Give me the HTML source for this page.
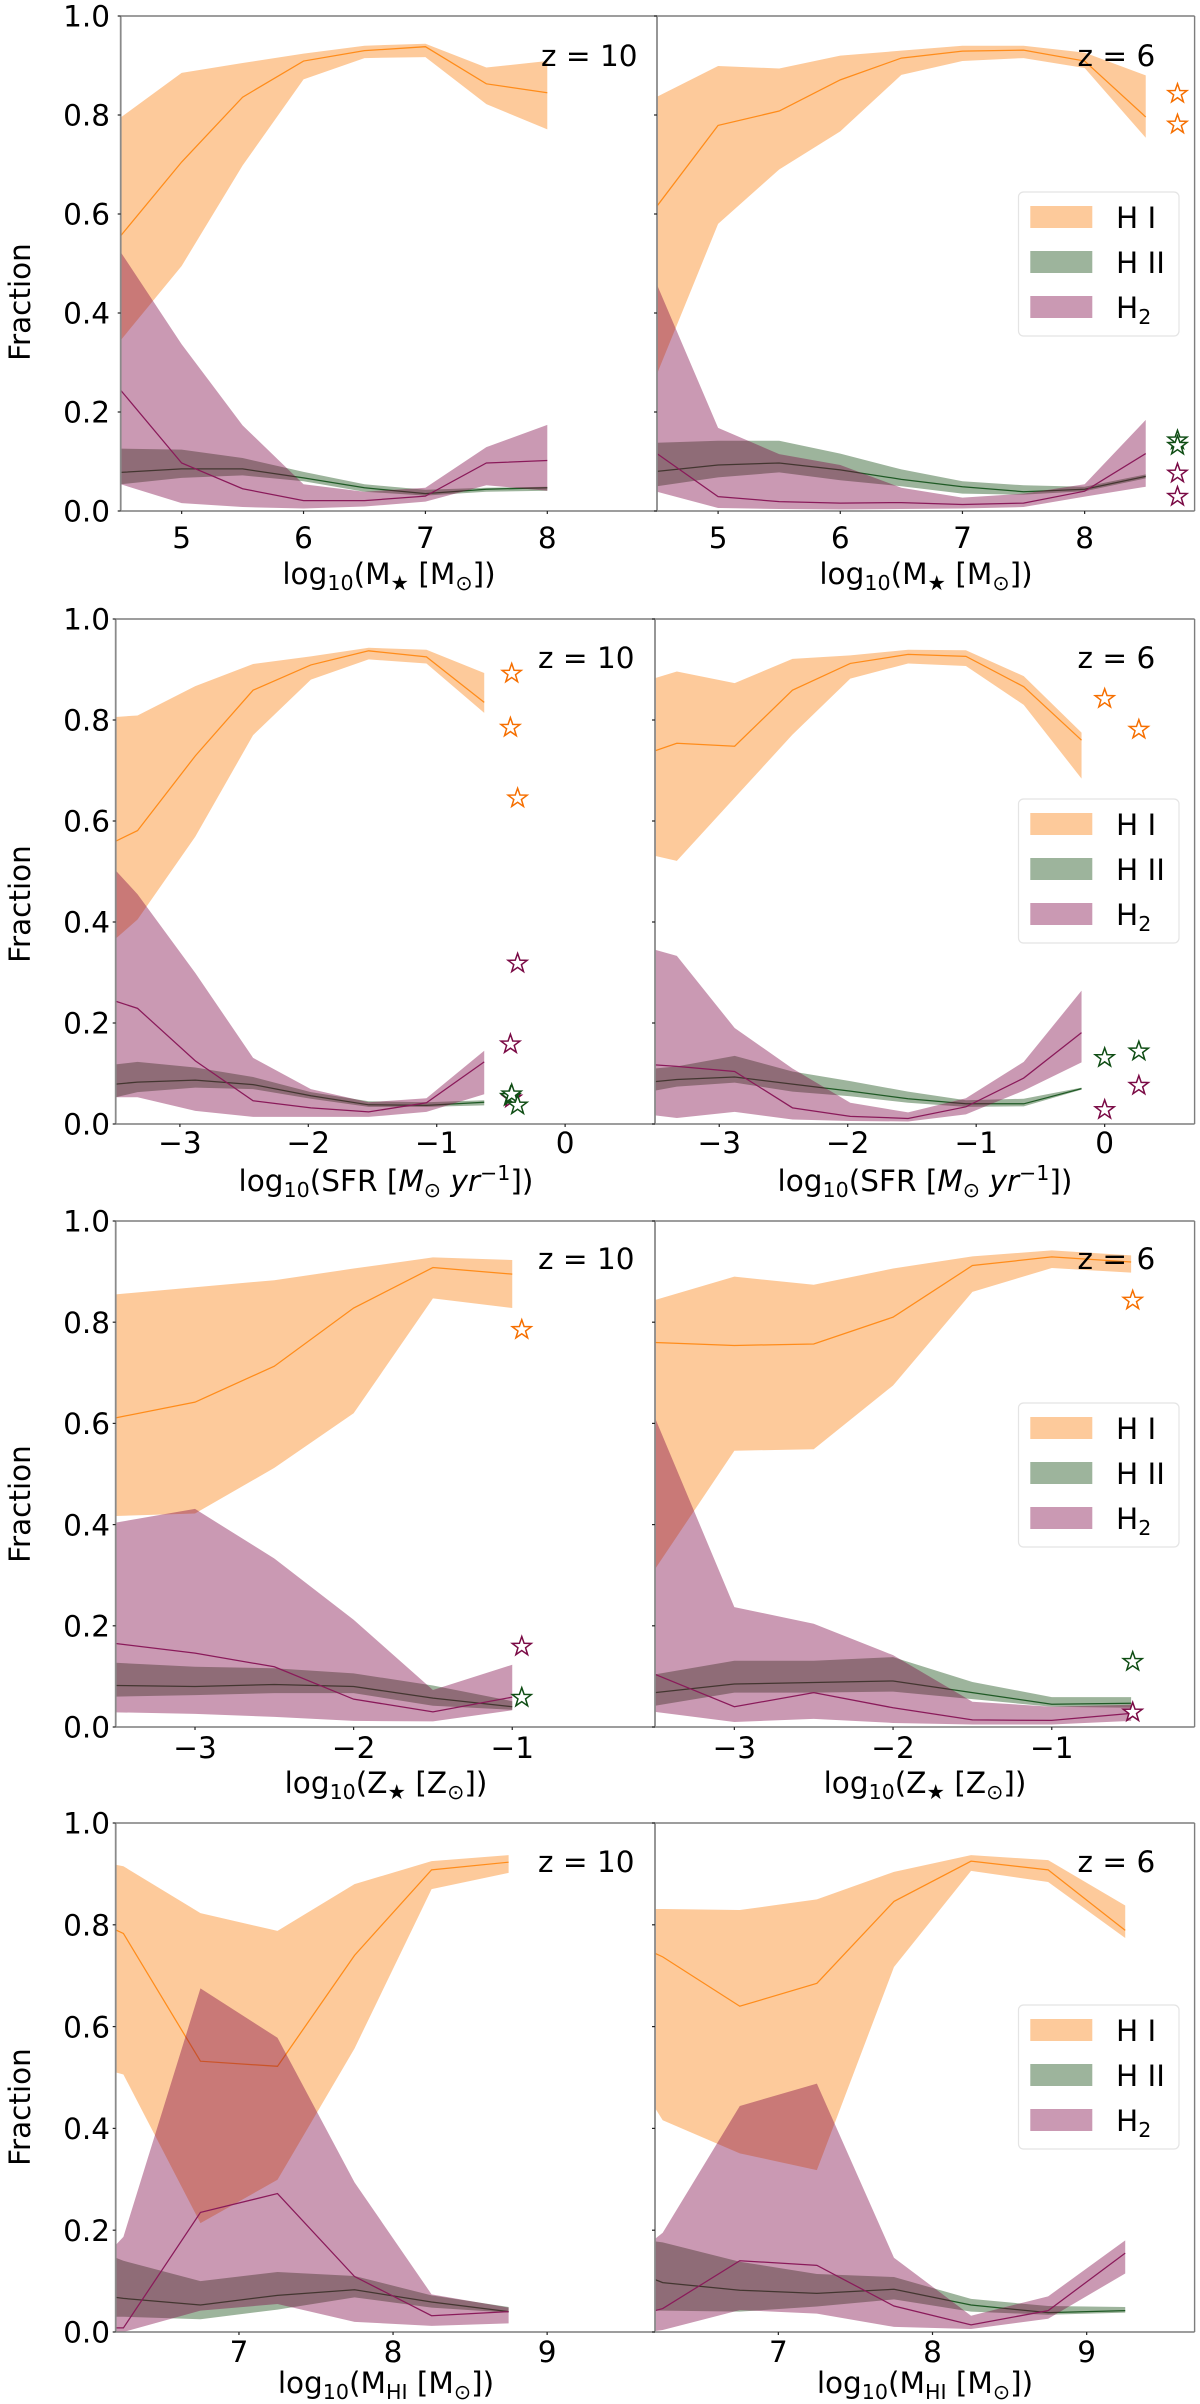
<!DOCTYPE html>
<html lang="en">
<head>
<meta charset="utf-8">
<title>Hydrogen phase fractions</title>
<style>
html,body{margin:0;padding:0;background:#fff;}
svg{display:block;}
text{font-family:"DejaVu Sans","Liberation Sans",sans-serif;fill:#000;}
</style>
</head>
<body>
<svg id="chart" xmlns="http://www.w3.org/2000/svg" width="1200" height="2404" viewBox="0 0 1200 2404"></svg>
<script>
// ---------- data: M_star, z = 10 ----------
const mstarZ10X = [4.5,5,5.5,6,6.5,7,7.5,8];
const mstarZ10HiTop = [.795,.885,.905,.924,.94,.944,.896,.909];
const mstarZ10HiMed = [.556,.705,.836,.909,.93,.938,.863,.845];
const mstarZ10HiLow = [.345,.495,.698,.872,.915,.917,.822,.771];
const mstarZ10HiiTop = [.126,.124,.107,.079,.054,.043,.047,.049];
const mstarZ10HiiMed = [.078,.085,.085,.067,.047,.035,.044,.047];
const mstarZ10HiiLow = [.054,.067,.072,.06,.039,.031,.039,.041];
const mstarZ10H2Top = [.523,.337,.173,.054,.039,.047,.129,.174];
const mstarZ10H2Med = [.244,.097,.045,.021,.021,.03,.097,.102];
const mstarZ10H2Low = [.054,.016,.008,.005,.009,.019,.052,.041];
// ---------- data: M_star, z = 6 ----------
const mstarZ6X = [4.5,5,5.5,6,6.5,7,7.5,8,8.5];
const mstarZ6HiTop = [.837,.899,.894,.92,.93,.94,.94,.926,.88];
const mstarZ6HiMed = [.616,.779,.808,.871,.915,.929,.931,.909,.796];
const mstarZ6HiLow = [.277,.58,.69,.767,.881,.909,.915,.895,.754];
const mstarZ6HiiTop = [.138,.142,.142,.116,.084,.06,.052,.049,.074];
const mstarZ6HiiMed = [.08,.093,.097,.083,.064,.049,.039,.044,.07];
const mstarZ6HiiLow = [.05,.068,.078,.062,.05,.035,.033,.04,.066];
const mstarZ6H2Top = [.457,.168,.115,.093,.047,.027,.035,.054,.184];
const mstarZ6H2Med = [.116,.029,.019,.016,.017,.013,.016,.04,.116];
const mstarZ6H2Low = [.039,.006,.004,.003,.004,.005,.008,.029,.049];
const mstarZ6StarHiX = [8.76,8.76];
const mstarZ6StarHiY = [.843,.781];
const mstarZ6StarHiiX = [8.76,8.76];
const mstarZ6StarHiiY = [.143,.132];
const mstarZ6StarH2X = [8.76,8.76];
const mstarZ6StarH2Y = [.076,.029];
// ---------- data: SFR, z = 10 ----------
const sfrZ10X = [-3.5,-3.33,-2.88,-2.43,-1.98,-1.53,-1.08,-.63];
const sfrZ10HiTop = [.806,.809,.867,.911,.926,.943,.939,.893];
const sfrZ10HiMed = [.56,.581,.729,.859,.909,.937,.925,.835];
const sfrZ10HiLow = [.367,.405,.569,.77,.88,.92,.912,.814];
const sfrZ10HiiTop = [.118,.123,.112,.093,.063,.045,.043,.047];
const sfrZ10HiiMed = [.079,.083,.087,.078,.056,.038,.037,.043];
const sfrZ10HiiLow = [.053,.063,.072,.069,.05,.034,.034,.037];
const sfrZ10H2Top = [.502,.455,.299,.131,.069,.043,.051,.145];
const sfrZ10H2Med = [.243,.229,.125,.046,.032,.024,.042,.123];
const sfrZ10H2Low = [.053,.053,.026,.014,.014,.014,.024,.059];
const sfrZ10StarHiX = [-.416,-.426,-.37];
const sfrZ10StarHiY = [.892,.785,.645];
const sfrZ10StarHiiX = [-.426,-.416,-.37];
const sfrZ10StarHiiY = [.054,.059,.037];
const sfrZ10StarH2X = [-.37,-.426,-.416];
const sfrZ10StarH2Y = [.318,.158,.051];
// ---------- data: SFR, z = 6 ----------
const sfrZ6X = [-3.5,-3.33,-2.88,-2.43,-1.98,-1.53,-1.08,-.63,-.18];
const sfrZ6HiTop = [.883,.896,.873,.921,.928,.939,.938,.887,.775];
const sfrZ6HiMed = [.739,.754,.748,.859,.912,.93,.926,.866,.76];
const sfrZ6HiLow = [.531,.521,.646,.771,.882,.912,.907,.83,.684];
const sfrZ6HiiTop = [.11,.114,.135,.104,.085,.064,.047,.05,.072];
const sfrZ6HiiMed = [.084,.088,.093,.079,.065,.05,.04,.04,.07];
const sfrZ6HiiLow = [.066,.074,.082,.064,.055,.042,.034,.035,.068];
const sfrZ6H2Top = [.345,.333,.19,.11,.042,.023,.051,.123,.264];
const sfrZ6H2Med = [.117,.114,.104,.032,.015,.011,.034,.091,.181];
const sfrZ6H2Low = [.017,.012,.024,.009,.006,.005,.019,.066,.122];
const sfrZ6StarHiX = [0,.266];
const sfrZ6StarHiY = [.842,.781];
const sfrZ6StarHiiX = [0,.266];
const sfrZ6StarHiiY = [.131,.144];
const sfrZ6StarH2X = [0,.266];
const sfrZ6StarH2Y = [.028,.076];
// ---------- data: Z_star, z = 10 ----------
const zstarZ10X = [-3.5,-3,-2.5,-2,-1.5,-1];
const zstarZ10HiTop = [.855,.869,.883,.906,.928,.923];
const zstarZ10HiMed = [.611,.642,.713,.828,.908,.895];
const zstarZ10HiLow = [.417,.422,.512,.62,.847,.828];
const zstarZ10HiiTop = [.127,.119,.116,.106,.082,.051];
const zstarZ10HiiMed = [.082,.08,.084,.08,.057,.04];
const zstarZ10HiiLow = [.06,.063,.067,.067,.042,.034];
const zstarZ10H2Top = [.404,.431,.333,.212,.073,.123];
const zstarZ10H2Med = [.165,.146,.119,.055,.03,.059];
const zstarZ10H2Low = [.029,.026,.02,.012,.011,.033];
const zstarZ10StarHiX = [-.94];
const zstarZ10StarHiY = [.785];
const zstarZ10StarHiiX = [-.94];
const zstarZ10StarHiiY = [.058];
const zstarZ10StarH2X = [-.94];
const zstarZ10StarH2Y = [.159];
// ---------- data: Z_star, z = 6 ----------
const zstarZ6X = [-3.5,-3,-2.5,-2,-1.5,-1,-.5];
const zstarZ6HiTop = [.844,.89,.874,.906,.93,.942,.932];
const zstarZ6HiMed = [.76,.754,.757,.81,.912,.929,.919];
const zstarZ6HiLow = [.312,.546,.549,.675,.86,.907,.898];
const zstarZ6HiiTop = [.104,.131,.131,.138,.089,.059,.059];
const zstarZ6HiiMed = [.068,.085,.088,.091,.068,.045,.047];
const zstarZ6HiiLow = [.042,.068,.068,.07,.055,.04,.038];
const zstarZ6H2Top = [.611,.237,.204,.142,.05,.04,.044];
const zstarZ6H2Med = [.104,.04,.068,.038,.014,.013,.027];
const zstarZ6H2Low = [.03,.01,.016,.008,.005,.005,.012];
const zstarZ6StarHiX = [-.49];
const zstarZ6StarHiY = [.843];
const zstarZ6StarHiiX = [-.49];
const zstarZ6StarHiiY = [.129];
const zstarZ6StarH2X = [-.49];
const zstarZ6StarH2Y = [.029];
// ---------- data: M_HI, z = 10 ----------
const mhiZ10X = [6.2,6.25,6.75,7.25,7.75,8.25,8.75];
const mhiZ10HiTop = [.918,.915,.823,.788,.88,.925,.937];
const mhiZ10HiMed = [.79,.783,.532,.522,.74,.908,.923];
const mhiZ10HiLow = [.51,.506,.214,.299,.557,.87,.902];
const mhiZ10HiiTop = [.146,.14,.1,.118,.11,.072,.049];
const mhiZ10HiiMed = [.068,.066,.053,.072,.083,.059,.04];
const mhiZ10HiiLow = [.03,.03,.025,.044,.068,.048,.038];
const mhiZ10H2Top = [.171,.187,.675,.578,.294,.074,.048];
const mhiZ10H2Med = [.008,.008,.235,.272,.109,.032,.04];
const mhiZ10H2Low = [0,0,.042,.055,.02,.012,.017];
// ---------- data: M_HI, z = 6 ----------
const mhiZ6X = [6.2,6.25,6.75,7.25,7.75,8.25,8.75,9.25];
const mhiZ6HiTop = [.831,.831,.829,.85,.904,.937,.927,.838];
const mhiZ6HiMed = [.744,.737,.64,.685,.846,.925,.908,.789];
const mhiZ6HiLow = [.44,.416,.351,.318,.717,.906,.884,.774];
const mhiZ6HiiTop = [.178,.176,.138,.114,.108,.065,.051,.049];
const mhiZ6HiiMed = [.103,.097,.082,.076,.084,.053,.038,.042];
const mhiZ6HiiLow = [.042,.042,.04,.05,.064,.04,.034,.038];
const mhiZ6H2Top = [.183,.195,.444,.488,.146,.032,.07,.18];
const mhiZ6H2Med = [.042,.046,.14,.131,.051,.014,.042,.155];
const mhiZ6H2Low = [.002,.004,.043,.036,.01,.006,.026,.115];
// ---------- tick labels ----------
const yTicks = [0,.2,.4,.6,.8,1];
const mstarTicks = [5,6,7,8];
const sfrTicks = [-3,-2,-1,0];
const zstarTicks = [-3,-2,-1];
const mhiTicks = [7,8,9];
const legendLabels = ['H I','H II','H<tspan font-size="20.6" dy="6">2</tspan>'];

// ---------- styling and layout ----------
const FS = 29.5;
const COLORS = {hi:'#fa7a05', hii:'#0a4308', h2:'#7a0041'};
const LINE = {hi:'#ff8c1a', hii:'#1f5a25', h2:'#8a1a5a'};
const STAR = {hi:'#f66f00', hii:'#0f4d14', h2:'#7a0a45'};
const SUBN = (s)=>`<tspan font-size="20.6" dy="6">${s}</tspan><tspan dy="-6">`;
const LABEL_MSTAR = `log${SUBN('10')}(M${SUBN('★')} [M${SUBN('⊙')}])</tspan></tspan></tspan>`;
const LABEL_SFR = `log${SUBN('10')}(SFR [<tspan font-style="italic">M</tspan>${SUBN('⊙')} <tspan font-style="italic">yr</tspan><tspan font-size="20.6" dy="-11">−1</tspan><tspan dy="11">]</tspan>)</tspan></tspan>`;
const LABEL_ZSTAR = `log${SUBN('10')}(Z${SUBN('★')} [Z${SUBN('⊙')}])</tspan></tspan></tspan>`;
const LABEL_MHI = `log${SUBN('10')}(M${SUBN('HI')} [M${SUBN('⊙')}])</tspan></tspan></tspan>`;

const rows = [
  {top:16,  bot:511,  tick:548,  label:584,  zbase:66,   legend:192,  frac:302},
  {top:619, bot:1124, tick:1153, label:1191, zbase:668,  legend:799,  frac:904},
  {top:1221,bot:1727, tick:1758, label:1793, zbase:1269, legend:1403, frac:1504},
  {top:1823,bot:2332, tick:2362, label:2393, zbase:1872, legend:2005, frac:2107}
];

const panels = [
 {id:'mstar-z10',row:0,x0:120.7,x1:657,xlim:[4.5,8.9],ticks:mstarTicks,label:LABEL_MSTAR,lx:389,z:'z = 10',zx:541,left:true,
  x:mstarZ10X,hi:[mstarZ10HiTop,mstarZ10HiMed,mstarZ10HiLow],hii:[mstarZ10HiiTop,mstarZ10HiiMed,mstarZ10HiiLow],h2:[mstarZ10H2Top,mstarZ10H2Med,mstarZ10H2Low]},
 {id:'mstar-z6',row:0,x0:657,x1:1194.6,xlim:[4.5,8.9],ticks:mstarTicks,label:LABEL_MSTAR,lx:926,z:'z = 6',zx:1077.5,left:false,
  x:mstarZ6X,hi:[mstarZ6HiTop,mstarZ6HiMed,mstarZ6HiLow],hii:[mstarZ6HiiTop,mstarZ6HiiMed,mstarZ6HiiLow],h2:[mstarZ6H2Top,mstarZ6H2Med,mstarZ6H2Low],
  sHi:[mstarZ6StarHiX,mstarZ6StarHiY],sHii:[mstarZ6StarHiiX,mstarZ6StarHiiY],sH2:[mstarZ6StarH2X,mstarZ6StarH2Y]},
 {id:'sfr-z10',row:1,x0:115.7,x1:655,xlim:[-3.5,.7],ticks:sfrTicks,label:LABEL_SFR,lx:386,z:'z = 10',zx:538,left:true,
  x:sfrZ10X,hi:[sfrZ10HiTop,sfrZ10HiMed,sfrZ10HiLow],hii:[sfrZ10HiiTop,sfrZ10HiiMed,sfrZ10HiiLow],h2:[sfrZ10H2Top,sfrZ10H2Med,sfrZ10H2Low],
  sHi:[sfrZ10StarHiX,sfrZ10StarHiY],sHii:[sfrZ10StarHiiX,sfrZ10StarHiiY],sH2:[sfrZ10StarH2X,sfrZ10StarH2Y]},
 {id:'sfr-z6',row:1,x0:655,x1:1194.6,xlim:[-3.5,.7],ticks:sfrTicks,label:LABEL_SFR,lx:925,z:'z = 6',zx:1077.5,left:false,
  x:sfrZ6X,hi:[sfrZ6HiTop,sfrZ6HiMed,sfrZ6HiLow],hii:[sfrZ6HiiTop,sfrZ6HiiMed,sfrZ6HiiLow],h2:[sfrZ6H2Top,sfrZ6H2Med,sfrZ6H2Low],
  sHi:[sfrZ6StarHiX,sfrZ6StarHiY],sHii:[sfrZ6StarHiiX,sfrZ6StarHiiY],sH2:[sfrZ6StarH2X,sfrZ6StarH2Y]},
 {id:'zstar-z10',row:2,x0:115.7,x1:655,xlim:[-3.5,-.1],ticks:zstarTicks,label:LABEL_ZSTAR,lx:386,z:'z = 10',zx:538,left:true,
  x:zstarZ10X,hi:[zstarZ10HiTop,zstarZ10HiMed,zstarZ10HiLow],hii:[zstarZ10HiiTop,zstarZ10HiiMed,zstarZ10HiiLow],h2:[zstarZ10H2Top,zstarZ10H2Med,zstarZ10H2Low],
  sHi:[zstarZ10StarHiX,zstarZ10StarHiY],sHii:[zstarZ10StarHiiX,zstarZ10StarHiiY],sH2:[zstarZ10StarH2X,zstarZ10StarH2Y]},
 {id:'zstar-z6',row:2,x0:655,x1:1194.6,xlim:[-3.5,-.1],ticks:zstarTicks,label:LABEL_ZSTAR,lx:925,z:'z = 6',zx:1077.5,left:false,
  x:zstarZ6X,hi:[zstarZ6HiTop,zstarZ6HiMed,zstarZ6HiLow],hii:[zstarZ6HiiTop,zstarZ6HiiMed,zstarZ6HiiLow],h2:[zstarZ6H2Top,zstarZ6H2Med,zstarZ6H2Low],
  sHi:[zstarZ6StarHiX,zstarZ6StarHiY],sHii:[zstarZ6StarHiiX,zstarZ6StarHiiY],sH2:[zstarZ6StarH2X,zstarZ6StarH2Y]},
 {id:'mhi-z10',row:3,x0:115.7,x1:655,xlim:[6.2,9.7],ticks:mhiTicks,label:LABEL_MHI,lx:386,z:'z = 10',zx:538,left:true,
  x:mhiZ10X,hi:[mhiZ10HiTop,mhiZ10HiMed,mhiZ10HiLow],hii:[mhiZ10HiiTop,mhiZ10HiiMed,mhiZ10HiiLow],h2:[mhiZ10H2Top,mhiZ10H2Med,mhiZ10H2Low]},
 {id:'mhi-z6',row:3,x0:655,x1:1194.6,xlim:[6.2,9.7],ticks:mhiTicks,label:LABEL_MHI,lx:925,z:'z = 6',zx:1077.5,left:false,
  x:mhiZ6X,hi:[mhiZ6HiTop,mhiZ6HiMed,mhiZ6HiLow],hii:[mhiZ6HiiTop,mhiZ6HiiMed,mhiZ6HiiLow],h2:[mhiZ6H2Top,mhiZ6H2Med,mhiZ6H2Low]}
];

const NS = 'http://www.w3.org/2000/svg';
const svg = document.getElementById('chart');
const defs = document.createElementNS(NS,'defs');
svg.appendChild(defs);

function mk(tag,parent){
  const e = document.createElementNS(NS,tag);
  parent.appendChild(e);
  return e;
}
function xScale(p,v){
  return p.x0 + (v-p.xlim[0])/(p.xlim[1]-p.xlim[0])*(p.x1-p.x0);
}
function yScale(r,v){
  return r.bot - v*(r.bot-r.top);
}
function starPoints(cx,cy,R){
  const pts=[];
  for(let i=0;i<10;i++){
    const rad = i%2===0 ? R : R*0.40;
    const a = -Math.PI/2 + i*Math.PI/5;
    pts.push((cx+rad*Math.cos(a)).toFixed(2)+','+(cy+rad*Math.sin(a)).toFixed(2));
  }
  return pts.join(' ');
}
function tickText(v){
  return v<0 ? '−'+Math.abs(v) : String(v);
}

panels.forEach(function(p){
  const r = rows[p.row];
  const g = mk('g',svg);
  
  

  const clip = mk('clipPath',defs);
  clip.setAttribute('id','clip-'+p.id);
  const cr = mk('rect',clip);
  cr.setAttribute('x',p.x0);
  cr.setAttribute('y',r.top);
  cr.setAttribute('width',p.x1-p.x0);
  cr.setAttribute('height',r.bot-r.top);

  const marks = mk('g',g);
  marks.setAttribute('clip-path','url(#clip-'+p.id+')');
  
  

  ['hi','hii','h2'].forEach(function(key){
    const s = p[key];
    const upper = p.x.map(function(v,i){return xScale(p,v).toFixed(2)+','+yScale(r,s[0][i]).toFixed(2);});
    const lower = p.x.map(function(v,i){return xScale(p,v).toFixed(2)+','+yScale(r,s[2][i]).toFixed(2);}).reverse();
    const band = mk('polygon',marks);
    band.setAttribute('points',upper.concat(lower).join(' '));
    band.setAttribute('fill',COLORS[key]);
    band.setAttribute('fill-opacity','0.4');
    
    
    const line = mk('polyline',marks);
    line.setAttribute('points',p.x.map(function(v,i){return xScale(p,v).toFixed(2)+','+yScale(r,s[1][i]).toFixed(2);}).join(' '));
    line.setAttribute('fill','none');
    line.setAttribute('stroke',LINE[key]);
    line.setAttribute('stroke-width','1.25');
    
    
  });

  // observational stars
  [['hi',p.sHi],['h2',p.sH2],['hii',p.sHii]].forEach(function(pair){
    if(!pair[1]) return;
    pair[1][0].forEach(function(xv,i){
      const st = mk('polygon',g);
      st.setAttribute('points',starPoints(xScale(p,xv),yScale(r,pair[1][1][i]),10));
      st.setAttribute('fill','#fff');
      st.setAttribute('stroke',STAR[pair[0]]);
      st.setAttribute('stroke-width','1.5');
      
      
    });
  });

  // spines
  const spineT = mk('line',g);
  spineT.setAttribute('x1',p.x0); spineT.setAttribute('x2',p.x1);
  spineT.setAttribute('y1',r.top); spineT.setAttribute('y2',r.top);
  spineT.setAttribute('stroke','#7d7d7d'); spineT.setAttribute('stroke-width','1.4');
  
  
  const spineB = mk('line',g);
  spineB.setAttribute('x1',p.x0); spineB.setAttribute('x2',p.x1);
  spineB.setAttribute('y1',r.bot); spineB.setAttribute('y2',r.bot);
  spineB.setAttribute('stroke','#7d7d7d'); spineB.setAttribute('stroke-width','1.4');
  
  
  const spineL = mk('line',g);
  spineL.setAttribute('x1',p.x0); spineL.setAttribute('x2',p.x0);
  spineL.setAttribute('y1',r.top); spineL.setAttribute('y2',r.bot);
  spineL.setAttribute('stroke','#8a8a8a'); spineL.setAttribute('stroke-width','1.8');
  
  
  if(!p.left){
    const spineR = mk('line',g);
    spineR.setAttribute('x1',p.x1); spineR.setAttribute('x2',p.x1);
    spineR.setAttribute('y1',r.top); spineR.setAttribute('y2',r.bot);
    spineR.setAttribute('stroke','#7d7d7d'); spineR.setAttribute('stroke-width','1.4');
    
    
  }

  // y ticks
  yTicks.forEach(function(v){
    const yy = yScale(r,v);
    const t = mk('line',g);
    t.setAttribute('x1',p.x0-3); t.setAttribute('x2',p.x0);
    t.setAttribute('y1',yy); t.setAttribute('y2',yy);
    t.setAttribute('stroke','#222'); t.setAttribute('stroke-width','1.2');
    
    
    if(p.left){
      const lab = mk('text',g);
      lab.setAttribute('x',110);
      lab.setAttribute('y',yy+10.7);
      lab.setAttribute('text-anchor','end');
      lab.setAttribute('font-size',FS);
      lab.textContent = v.toFixed(1);
      
      
    }
  });

  // x ticks
  p.ticks.forEach(function(v){
    const xx = xScale(p,v);
    const t = mk('line',g);
    t.setAttribute('x1',xx); t.setAttribute('x2',xx);
    t.setAttribute('y1',r.bot); t.setAttribute('y2',r.bot+3);
    t.setAttribute('stroke','#222'); t.setAttribute('stroke-width','1.2');
    
    
    const lab = mk('text',g);
    lab.setAttribute('x',xx);
    lab.setAttribute('y',r.tick);
    lab.setAttribute('text-anchor','middle');
    lab.setAttribute('font-size',FS);
    lab.textContent = tickText(v);
    
    
  });

  // x label
  const xl = mk('text',g);
  xl.setAttribute('x',p.lx);
  xl.setAttribute('y',r.label);
  xl.setAttribute('text-anchor','middle');
  xl.setAttribute('font-size',FS);
  xl.innerHTML = p.label;
  
  

  // redshift tag
  const zt = mk('text',g);
  zt.setAttribute('x',p.zx);
  zt.setAttribute('y',r.zbase);
  zt.setAttribute('font-size',FS);
  zt.textContent = p.z;
  
  

  // y label
  if(p.left){
    const yl = mk('text',g);
    yl.setAttribute('transform','translate(30,'+r.frac+') rotate(-90)');
    yl.setAttribute('text-anchor','middle');
    yl.setAttribute('font-size',FS);
    yl.textContent = 'Fraction';
    
    
  } else {
    // legend
    const lg = mk('g',g);
    
    
    const box = mk('rect',lg);
    box.setAttribute('x',1018.5);
    box.setAttribute('y',r.legend);
    box.setAttribute('width',160.5);
    box.setAttribute('height',144);
    box.setAttribute('rx',5);
    box.setAttribute('fill','#fff');
    box.setAttribute('fill-opacity','0.8');
    box.setAttribute('stroke','#e4e4e4');
    box.setAttribute('stroke-width','1.2');
    
    
    ['hi','hii','h2'].forEach(function(key,i){
      const sw = mk('rect',lg);
      sw.setAttribute('x',1030.3);
      sw.setAttribute('y',r.legend+14+i*45);
      sw.setAttribute('width',62);
      sw.setAttribute('height',22);
      sw.setAttribute('fill',COLORS[key]);
      sw.setAttribute('fill-opacity','0.4');
      
      
      const tx = mk('text',lg);
      tx.setAttribute('x',1116);
      tx.setAttribute('y',r.legend+36+i*45);
      tx.setAttribute('font-size',FS);
      tx.innerHTML = legendLabels[i];
      
      
    });
  }
});
</script>
</body>
</html>
